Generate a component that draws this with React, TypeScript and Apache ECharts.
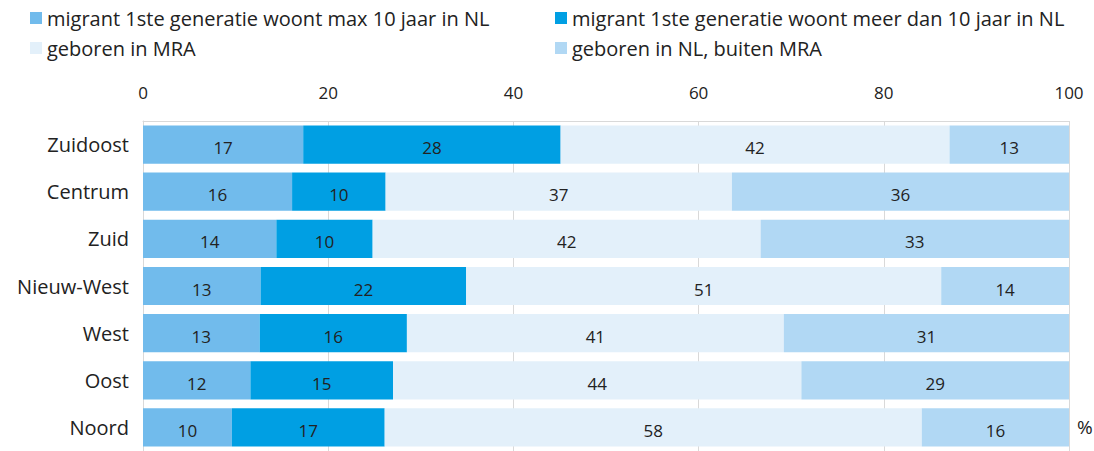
import React, { useEffect, useRef } from "react";
import * as echarts from "echarts";

const categories = ["Zuidoost", "Centrum", "Zuid", "Nieuw-West", "West", "Oost", "Noord"];
const seriesNames = [
  "migrant 1ste generatie woont max 10 jaar in NL",
  "migrant 1ste generatie woont meer dan 10 jaar in NL",
  "geboren in MRA",
  "geboren in NL, buiten MRA",
];
const maxTien = [17.3, 16.1, 14.4, 12.7, 12.6, 11.6, 9.6];
const meerTien = [27.8, 10.1, 10.4, 22.2, 15.9, 15.4, 16.5];
const geborenMRA = [42.0, 37.4, 41.9, 51.3, 40.7, 44.1, 58.0];
const geborenNL = [12.9, 36.4, 33.3, 13.8, 30.8, 28.9, 15.9];
const xTicks = [0, 20, 40, 60, 80, 100];

const colors = ["#71bbec", "#009fe3", "#e3f0fa", "#b1d8f4"];
const FONT = "'Open Sans', Lato, sans-serif";

export default function App() {
  const ref = useRef<HTMLDivElement>(null);
  useEffect(() => {
    document.body.style.margin = "0";
    const chart = echarts.init(ref.current!, null, { renderer: "svg" });
    const data = [maxTien, meerTien, geborenMRA, geborenNL];
    const legendPos = [
      { left: 30, top: 8 },
      { left: 555, top: 8 },
      { left: 30, top: 38 },
      { left: 555, top: 38 },
    ];
    chart.setOption({
      animation: false,
      textStyle: { fontFamily: FONT },
      legend: seriesNames.map((n, i) => ({
        data: [n],
        left: legendPos[i].left,
        top: legendPos[i].top,
        itemWidth: 12,
        itemHeight: 12,
        itemGap: 6,
        icon: "rect",
        padding: 0,
        selectedMode: false,
        textStyle: { fontSize: 20, color: "#222222", fontFamily: FONT },
      })),
      grid: { left: 143, right: 25, top: 121, height: 330 },
      xAxis: {
        type: "value",
        position: "top",
        min: 0,
        max: 100,
        interval: 20,
        axisLine: { show: true, lineStyle: { color: "#d9d9d9" } },
        axisTick: { show: false },
        splitLine: { show: true, lineStyle: { color: "#d9d9d9" } },
        axisLabel: {
          fontSize: 17,
          color: "#222222",
          margin: 20,
          fontFamily: FONT,
          formatter: (v: number) => (xTicks.includes(v) ? String(v) : ""),
        },
      },
      yAxis: {
        type: "category",
        data: categories,
        inverse: true,
        axisLine: { show: true, lineStyle: { color: "#d9d9d9" } },
        axisTick: { show: false },
        axisLabel: { fontSize: 20, color: "#222222", margin: 14, fontFamily: FONT },
      },
      series: seriesNames.map((n, i) => ({
        name: n,
        type: "bar",
        stack: "total",
        data: data[i],
        barWidth: "81%",
        itemStyle: { color: colors[i] },
        label: {
          show: true,
          position: "inside",
          offset: [0, 3],
          fontSize: 17,
          color: "#222222",
          fontFamily: FONT,
          formatter: (p: any) => String(Math.round(p.value)),
        },
      })),
      graphic: [
        {
          type: "text",
          left: 1077,
          top: 417,
          style: { text: "%", fontSize: 19, fill: "#222222", fontFamily: FONT },
        },
      ],
    });
    return () => chart.dispose();
  }, []);
  return <div ref={ref} style={{ width: 1094, height: 451 }} />;
}
